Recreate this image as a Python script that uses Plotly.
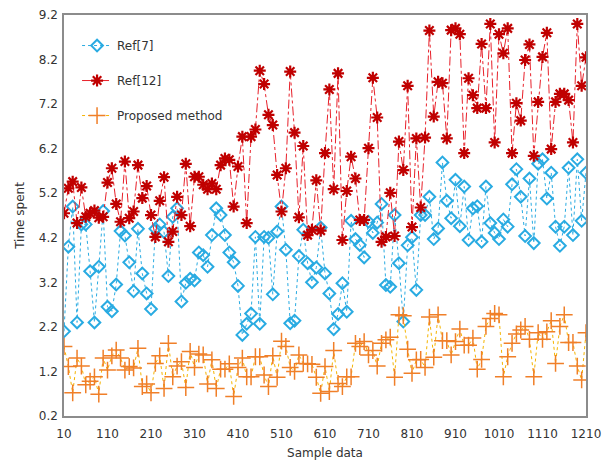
import plotly.graph_objects as go

sample_x = list(range(10, 1211, 10))

ref7 = [2.1, 4.0, 4.9, 2.3, 4.5, 4.5, 3.45, 2.3, 3.55, 4.8,
        2.65, 2.55, 3.15, 4.35, 4.25, 3.65, 3.0, 4.4, 3.4, 2.95,
        2.6, 4.4, 4.5, 4.33, 3.34, 4.67, 4.86, 2.77, 3.19, 3.28,
        3.24, 3.87, 3.81, 3.55, 4.26, 4.86, 4.71, 4.26, 3.87, 3.65,
        3.12, 2.02, 2.27, 2.5, 4.22, 2.27, 4.22, 4.2, 2.93, 4.34,
        4.9, 3.93, 2.28, 2.34, 3.79, 4.38, 3.63, 3.2, 3.53, 4.43,
        3.4, 2.95, 2.15, 2.49, 3.18, 2.54, 4.58, 4.17, 4.04, 3.76,
        4.56, 4.31, 4.54, 4.96, 3.14, 3.1, 4.71, 3.63, 2.32, 4.03,
        4.21, 3.03, 4.71, 4.71, 5.12, 4.17, 4.41, 5.89, 5.03, 4.64,
        5.5, 4.46, 5.35, 4.15, 4.86, 4.91, 4.11, 5.35, 4.53, 4.31,
        4.17, 4.61, 4.45, 5.4, 5.74, 5.12, 4.24, 5.53, 4.08, 5.86,
        5.96, 5.08, 5.66, 4.45, 4.02, 4.45, 5.77, 4.26, 5.96, 4.58,
        5.66]

ref12 = [4.75, 5.31, 5.46, 4.53, 5.33, 4.67, 4.75, 4.81, 4.65, 4.67,
         5.44, 5.76, 4.96, 4.56, 5.91, 4.64, 4.79, 5.83, 5.09, 5.36,
         4.71, 4.22, 5.03, 5.56, 4.11, 4.34, 5.12, 4.71, 5.86, 4.46,
         5.57, 5.57, 5.39, 5.29, 5.42, 5.29, 5.83, 5.98, 5.95, 4.9,
         5.8, 6.47, 4.53, 6.47, 6.63, 7.95, 7.65, 6.96, 6.73, 5.61,
         4.79, 5.76, 7.93, 6.56, 4.66, 6.26, 4.26, 4.38, 5.49, 4.36,
         6.1, 7.53, 5.29, 7.89, 4.15, 5.25, 6.02, 5.53, 4.6, 4.6,
         6.21, 7.79, 6.9, 4.11, 4.22, 5.21, 4.24, 6.36, 5.72, 7.61,
         4.44, 6.43, 4.88, 6.45, 8.85, 6.92, 7.7, 7.67, 6.43, 8.86,
         8.9, 8.77, 6.1, 7.78, 7.4, 7.11, 8.55, 7.11, 9.0, 6.34,
         8.77, 8.34, 8.9, 6.1, 7.22, 6.83, 8.19, 8.54, 6.04, 7.25,
         8.26, 8.8, 6.19, 7.25, 7.43, 7.43, 7.29, 6.34, 9.0, 7.61,
         8.25]

proposed = [1.76, 1.31, 0.72, 1.5, 1.32, 0.9, 0.98, 1.08, 0.69, 1.5,
            1.23, 1.55, 1.68, 1.5, 1.23, 1.31, 1.28, 1.72, 0.86, 0.92,
            0.72, 1.38, 1.55, 0.82, 1.83, 1.08, 1.32, 1.42, 0.84, 1.65,
            1.29, 1.59, 1.57, 0.92, 1.46, 0.82, 1.25, 1.25, 1.37, 0.64,
            1.29, 1.5, 1.08, 1.08, 1.53, 1.53, 1.12, 0.86, 1.55, 1.07,
            1.88, 1.76, 1.29, 1.2, 1.57, 1.38, 1.37, 1.36, 1.07, 0.71,
            1.31, 0.75, 1.67, 0.93, 0.86, 1.08, 1.08, 1.83, 1.76, 1.87,
            1.57, 1.67, 1.32, 1.83, 1.91, 1.97, 1.07, 2.47, 2.45, 1.7,
            1.16, 1.46, 1.47, 1.29, 2.42, 1.52, 2.47, 1.89, 1.89, 1.57,
            1.87, 2.15, 1.79, 1.79, 1.95, 1.25, 1.47, 2.21, 2.39, 2.5,
            2.47, 1.08, 1.53, 1.83, 2.04, 2.13, 2.21, 1.92, 1.08, 2.07,
            1.92, 2.09, 2.34, 1.38, 2.21, 2.47, 1.85, 1.85, 1.32, 1.01,
            2.07]

x_ticks = list(range(10, 1211, 100))
y_ticks = [0.2, 1.2, 2.2, 3.2, 4.2, 5.2, 6.2, 7.2, 8.2, 9.2]

FONT = "DejaVu Sans"

fig = go.Figure()
fig.add_trace(go.Scatter(
    x=sample_x, y=ref7, name="Ref[7]", mode="lines+markers",
    legendgroup="a",
    line=dict(color="#29abe2", width=1, dash="dot"),
    marker=dict(symbol="diamond-open", size=9, color="#29abe2",
                line=dict(width=2, color="#29abe2")),
))
fig.add_trace(go.Scatter(
    x=sample_x, y=ref12, name="Ref[12]", mode="lines+markers",
    legendgroup="b",
    line=dict(color="#e8202a", width=1, dash="dashdot"),
    marker=dict(symbol="asterisk-open", size=10, color="#c00000",
                line=dict(width=2.2, color="#c00000")),
))
fig.add_trace(go.Scatter(
    x=sample_x, y=proposed, name="Proposed method", mode="lines+markers",
    legendgroup="c",
    line=dict(color="#f5b400", width=1, dash="dot"),
    marker=dict(symbol="cross-thin-open", size=12, color="#f07f28",
                line=dict(width=1.5, color="#f07f28")),
))

fig.update_layout(
    width=602, height=460,
    margin=dict(l=64, r=16, t=15, b=44),
    paper_bgcolor="white", plot_bgcolor="white",
    font=dict(family=FONT, size=12, color="#333333"),
    showlegend=True,
    legend=dict(x=0.025, y=0.96, xanchor="left", yanchor="top",
                bgcolor="rgba(0,0,0,0)", font=dict(size=12, color="#333333"),
                tracegroupgap=16, itemwidth=30),
    xaxis=dict(range=[10, 1210], tickmode="array", tickvals=x_ticks,
               ticktext=[str(v) for v in x_ticks], automargin=False,
               showgrid=False, zeroline=False, showline=True,
               linecolor="#8c8c8c", linewidth=1.5, mirror=True,
               ticks="", ticklabelstandoff=6,
               tickfont=dict(size=12, color="#333333"),
               title=dict(text="Sample data", font=dict(size=12), standoff=9)),
    yaxis=dict(range=[0.2, 9.2], tickmode="array", tickvals=y_ticks,
               ticktext=[f"{v:.1f}" for v in y_ticks], automargin=False,
               showgrid=False, zeroline=False, showline=True,
               linecolor="#8c8c8c", linewidth=1.5, mirror=True,
               ticks="", ticklabelstandoff=2,
               tickfont=dict(size=12, color="#333333"),
               title=dict(text="Time spent", font=dict(size=12), standoff=12)),
)

fig.write_html("out.html", config={"displayModeBar": False},
               post_script="document.body.style.margin='0';document.body.style.overflow='hidden';")
